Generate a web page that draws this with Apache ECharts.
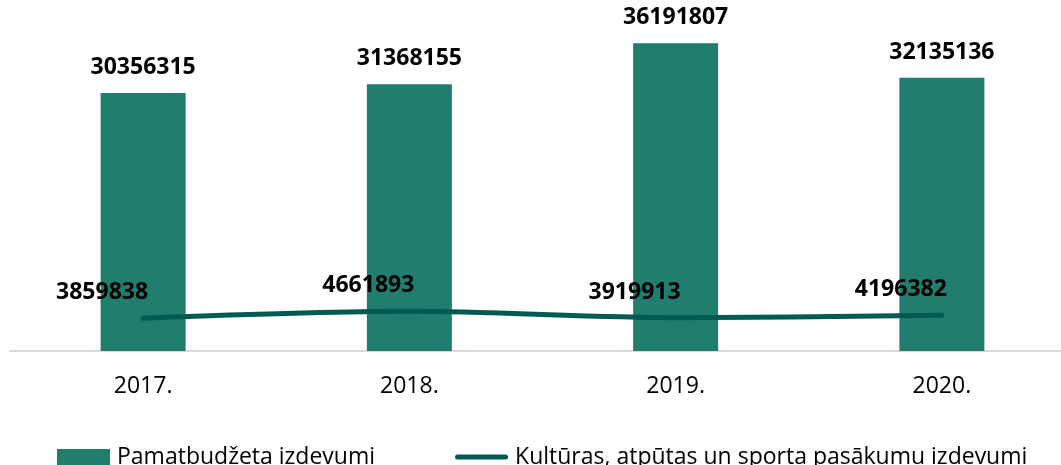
<!DOCTYPE html>
<html><head><meta charset="utf-8">
<script src="https://cdn.jsdelivr.net/npm/echarts@6/dist/echarts.min.js"></script>
<style>html,body{margin:0;padding:0;background:#fff}#c{width:1061px;height:465px}</style>
</head><body><div id="c"></div>
<script>
const categories = ['2017.', '2018.', '2019.', '2020.'];
const budgetValues = [30356315, 31368155, 36191807, 32135136];
const cultureValues = [3859838, 4661893, 3919913, 4196382];
const seriesNames = ['Pamatbudžeta izdevumi', 'Kultūras, atpūtas un sporta pasākumu izdevumi'];

const FONT = '"Open Sans", "Noto Sans", sans-serif';
const chart = echarts.init(document.getElementById('c'), null, {renderer: 'canvas'});
chart.setOption({
  animation: false,
  backgroundColor: '#ffffff',
  textStyle: {fontFamily: FONT},
  grid: {left: 10, top: 11, right: -14, bottom: 114, containLabel: false, outerBoundsMode: 'none'},
  legend: {
    left: 57, top: 444, padding: 0,
    itemWidth: 53, itemHeight: 16, itemGap: 80,
    textStyle: {fontFamily: FONT, fontSize: 23, color: '#000', lineHeight: 26, padding: [0, 0, 0, 2]},
    data: [
      {name: seriesNames[0], icon: 'rect'},
      {name: seriesNames[1], icon: 'path://M2.5,0h48a2.5,2.5 0 0 1 0,5h-48a2.5,2.5 0 0 1 0,-5z', itemStyle: {color: '#005a4f'}}
    ]
  },
  xAxis: {
    type: 'category', data: categories,
    axisLine: {show: true, lineStyle: {color: '#d9d9d9', width: 2}},
    axisTick: {show: false},
    axisLabel: {fontFamily: FONT, fontSize: 23, color: '#000', margin: 24}
  },
  yAxis: {type: 'value', min: 0, max: 40000000, show: false, splitLine: {show: false}},
  series: [
    {
      name: seriesNames[0], type: 'bar', data: budgetValues, barWidth: 85,
      itemStyle: {color: '#217d6e'},
      label: {show: true, position: 'top', distance: 14, fontFamily: FONT, fontSize: 23, fontWeight: 'bold', color: '#000'}
    },
    {
      name: seriesNames[1], type: 'line', data: cultureValues, smooth: 0.3,
      symbol: 'circle', symbolSize: 0, showSymbol: true,
      lineStyle: {color: '#005a4f', width: 5, cap: 'round'},
      itemStyle: {color: '#005a4f'},
      label: {show: true, position: 'top', distance: 5, align: 'right', offset: [5, -9],
        fontFamily: FONT, fontSize: 23, fontWeight: 'bold', color: '#000'}
    }
  ]
});
</script></body></html>
